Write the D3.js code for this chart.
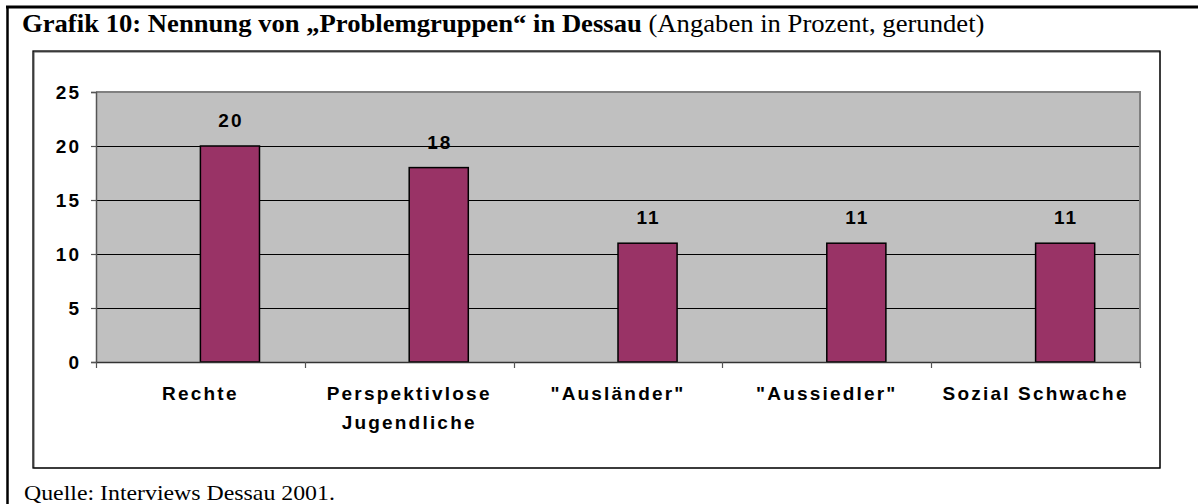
<!DOCTYPE html>
<html>
<head>
<meta charset="utf-8">
<script src="https://cdn.jsdelivr.net/npm/d3@7"></script>
<style>
  html, body { margin: 0; padding: 0; background: #fff; }
  svg { display: block; }
</style>
</head>
<body>
<svg id="chart" width="1198" height="504"></svg>
<script>
// ---- data ----
const categories = ["Rechte", "Perspektivlose Jugendliche", "\"Ausländer\"", "\"Aussiedler\"", "Sozial Schwache"];
const values = [20, 18, 11, 11, 11];
const yTicks = [0, 5, 10, 15, 20, 25];
const titleBold = "Grafik 10: Nennung von „Problemgruppen“ in Dessau";
const titleNormal = " (Angaben in Prozent, gerundet)";
const sourceText = "Quelle: Interviews Dessau 2001.";

// ---- layout ----
const W = 1198, H = 504;
const plot = { left: 96, right: 1140, top: 92, bottom: 362 };
const svg = d3.select("#chart");

// helper: stretch a text element horizontally to a target width
function fitWidth(sel, x0, y0, target) {
  const len = sel.node().getComputedTextLength();
  sel.attr("x", 0).attr("y", 0)
     .attr("transform", `translate(${x0},${y0}) scale(${target / len},1)`);
}

// outer frame (top and left rules)
svg.append("line").attr("x1", 6).attr("x2", W).attr("y1", 7).attr("y2", 7)
  .attr("stroke", "#000").attr("stroke-width", 3);
svg.append("line").attr("x1", 7.5).attr("x2", 7.5).attr("y1", 6).attr("y2", H)
  .attr("stroke", "#000").attr("stroke-width", 2.5);

// title
const title = svg.append("text")
  .attr("font-family", "'Liberation Serif', 'Times New Roman', serif")
  .attr("font-size", 25).attr("fill", "#000");
title.append("tspan").attr("font-weight", "bold").text(titleBold);
title.append("tspan").text(titleNormal);
fitWidth(title, 22, 32, 963);

// inner chart box
svg.append("rect").attr("x", 34).attr("y", 52).attr("width", 1126).attr("height", 416)
  .attr("fill", "#fff").attr("stroke", "#555").attr("stroke-width", 1);
svg.append("rect").attr("x", 33).attr("y", 51).attr("width", 1127).attr("height", 417)
  .attr("fill", "none").attr("stroke", "#000").attr("stroke-width", 1.3);

// source
const src = svg.append("text")
  .attr("font-family", "'Liberation Serif', 'Times New Roman', serif")
  .attr("font-size", 22).attr("fill", "#000")
  .text(sourceText);
fitWidth(src, 24, 500, 311);

// scales
const x = d3.scaleBand().domain(categories).range([plot.left, plot.right]).padding(0);
const y = d3.scaleLinear().domain([0, 25]).range([plot.bottom, plot.top]);

// plot background
svg.append("rect").attr("x", plot.left).attr("y", plot.top)
  .attr("width", plot.right - plot.left).attr("height", plot.bottom - plot.top)
  .attr("fill", "#c0c0c0");

// gridlines
svg.append("g").selectAll("line").data(yTicks.filter(d => d > 0 && d < 25)).join("line")
  .attr("x1", plot.left).attr("x2", plot.right)
  .attr("y1", d => Math.round(y(d)) + 0.5).attr("y2", d => Math.round(y(d)) + 0.5)
  .attr("stroke", "#000").attr("stroke-width", 1);

// plot border top/right
svg.append("path")
  .attr("d", `M${plot.left},${plot.top}H${plot.right}V${plot.bottom}`)
  .attr("fill", "none").attr("stroke", "#808080").attr("stroke-width", 2);

// bars
const barW = x.bandwidth() * 0.283;
svg.append("g").selectAll("rect").data(categories).join("rect")
  .attr("x", d => x(d) + x.bandwidth() / 2)
  .attr("y", (d, i) => y(values[i]))
  .attr("width", barW)
  .attr("height", (d, i) => y(0) - y(values[i]))
  .attr("fill", "#993366").attr("stroke", "#000").attr("stroke-width", 1.5);

// value labels
svg.append("g").selectAll("text").data(categories).join("text")
  .attr("x", d => x(d) + x.bandwidth() / 2 + barW / 2 + 1)
  .attr("y", (d, i) => y(values[i]) - 19)
  .attr("text-anchor", "middle")
  .attr("font-family", "'Liberation Sans', Arial, sans-serif")
  .attr("font-weight", "bold").attr("font-size", 19).attr("letter-spacing", 2)
  .text((d, i) => values[i]);

// y axis
const yAxis = svg.append("g").attr("transform", `translate(${plot.left},0)`)
  .call(d3.axisLeft(y).tickValues(yTicks).tickSize(5).tickPadding(10).tickFormat(d3.format("d")));
yAxis.select(".domain").attr("stroke", "#555").attr("stroke-width", 1.5);
yAxis.selectAll(".tick line").attr("stroke", "#555").attr("stroke-width", 1.2);
yAxis.selectAll(".tick text")
  .attr("font-family", "'Liberation Sans', Arial, sans-serif")
  .attr("font-weight", "bold").attr("font-size", 19).attr("letter-spacing", 2)
  .attr("fill", "#000").attr("dy", "0.36em");

// x axis
const xAxisG = svg.append("g").attr("transform", `translate(0,${plot.bottom})`);
xAxisG.append("line").attr("x1", plot.left).attr("x2", plot.right).attr("y1", 0.5).attr("y2", 0.5)
  .attr("stroke", "#333").attr("stroke-width", 1.5);
const boundaries = categories.map(d => x(d)).concat([plot.right]);
xAxisG.selectAll("line.tk").data(boundaries).join("line").attr("class", "tk")
  .attr("x1", d => Math.round(d) + 0.5).attr("x2", d => Math.round(d) + 0.5)
  .attr("y1", 0).attr("y2", 6).attr("stroke", "#555").attr("stroke-width", 1.2);

// category labels with wrapping
const labels = xAxisG.selectAll("text.cat").data(categories).join("text").attr("class", "cat")
  .attr("x", d => x(d) + x.bandwidth() / 2)
  .attr("y", 38)
  .attr("text-anchor", "middle")
  .attr("font-family", "'Liberation Sans', Arial, sans-serif")
  .attr("font-weight", "bold").attr("font-size", 19).attr("letter-spacing", 2.2)
  .attr("fill", "#000");
labels.each(function(d) {
  const t = d3.select(this);
  const cx = x(d) + x.bandwidth() / 2;
  const words = d.split(" ");
  let line = [];
  let tspan = t.append("tspan").attr("x", cx).attr("dy", 0);
  words.forEach(w => {
    line.push(w);
    tspan.text(line.join(" "));
    if (tspan.node().getComputedTextLength() > x.bandwidth() - 12 && line.length > 1) {
      line.pop();
      tspan.text(line.join(" "));
      line = [w];
      tspan = t.append("tspan").attr("x", cx).attr("dy", 29).text(w);
    }
  });
});
</script>
</body>
</html>
